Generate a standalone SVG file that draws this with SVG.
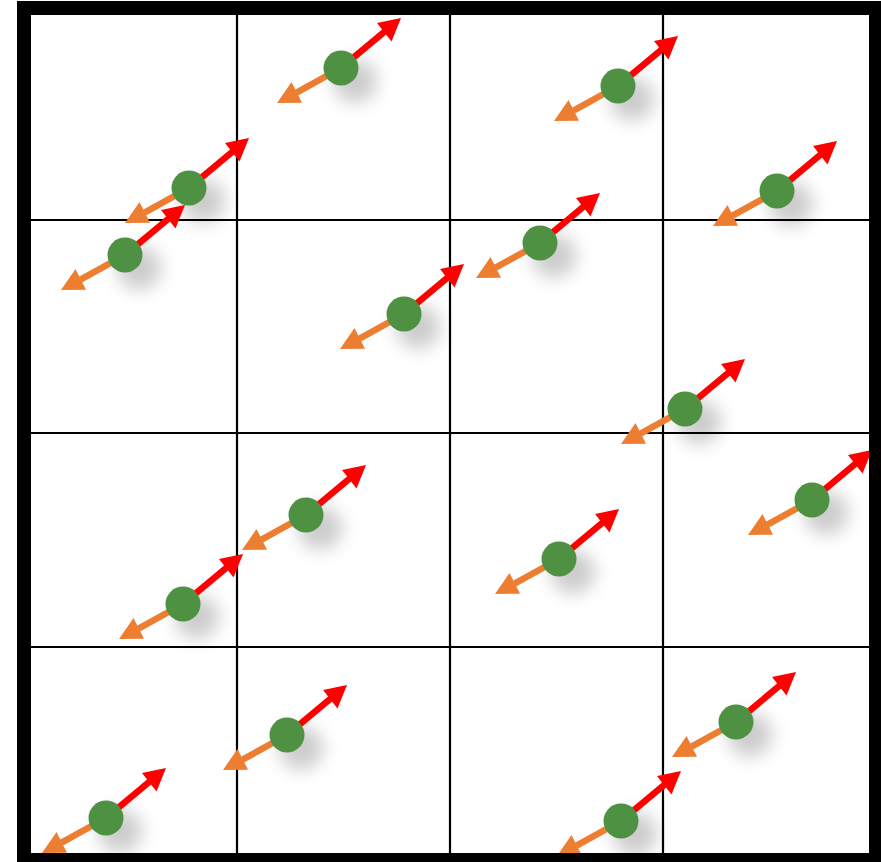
<svg xmlns="http://www.w3.org/2000/svg" xmlns:xlink="http://www.w3.org/1999/xlink" width="881" height="862" viewBox="0 0 881 862">
<style>
.grid{stroke:#000;stroke-width:2.2;fill:none}
.frame{stroke:#000;stroke-width:14;fill:none}
.red{stroke:#FF0000;stroke-width:6.5}
.redh{fill:#FF0000}
.org{stroke:#ED7D31;stroke-width:6.5}
.orgh{fill:#ED7D31}
.dot{fill:#4F9143}
.sh{fill:#000;opacity:0.2}
</style>
<defs>
<filter id="blur" x="-1" y="-1" width="3" height="3"><feGaussianBlur stdDeviation="9"/></filter>
<g id="item">
<circle class="sh" cx="14" cy="13" r="22" filter="url(#blur)"/>
<line class="red" x1="0" y1="0" x2="44" y2="-36.7"/>
<polygon class="redh" points="60,-50 50.5,-26.5 36,-45"/>
<line class="org" x1="0" y1="0" x2="-44.5" y2="24.7"/>
<polygon class="orgh" points="-64,35 -39,34.7 -49.5,14"/>
<circle class="dot" cx="0" cy="0" r="17.5"/>
</g>
</defs>
<rect x="0" y="0" width="881" height="862" fill="#fff"/>
<g id="grid">
<line class="grid" x1="237" y1="8" x2="237" y2="860"/>
<line class="grid" x1="450" y1="8" x2="450" y2="860"/>
<line class="grid" x1="663" y1="8" x2="663" y2="860"/>
<line class="grid" x1="24" y1="220" x2="876" y2="220"/>
<line class="grid" x1="24" y1="433" x2="876" y2="433"/>
<line class="grid" x1="24" y1="647" x2="876" y2="647"/>
</g>
<g id="connectors"></g>
<g id="n1" transform="translate(341,68)"><use xlink:href="#item"/></g>
<g id="n2" transform="translate(618,86)"><use xlink:href="#item"/></g>
<g id="n3" transform="translate(189,188)"><use xlink:href="#item"/></g>
<g id="n4" transform="translate(777,191)"><use xlink:href="#item"/></g>
<g id="n5" transform="translate(125,255)"><use xlink:href="#item"/></g>
<g id="n6" transform="translate(540,243)"><use xlink:href="#item"/></g>
<g id="n7" transform="translate(404,314)"><use xlink:href="#item"/></g>
<g id="n8" transform="translate(685,409)"><use xlink:href="#item"/></g>
<g id="n9" transform="translate(306,515)"><use xlink:href="#item"/></g>
<g id="n10" transform="translate(812,500)"><use xlink:href="#item"/></g>
<g id="n11" transform="translate(559,559)"><use xlink:href="#item"/></g>
<g id="n12" transform="translate(183,604)"><use xlink:href="#item"/></g>
<g id="n13" transform="translate(287,735)"><use xlink:href="#item"/></g>
<g id="n14" transform="translate(736,722)"><use xlink:href="#item"/></g>
<g id="n15" transform="translate(106,818)"><use xlink:href="#item"/></g>
<g id="n16" transform="translate(621,821)"><use xlink:href="#item"/></g>
<rect class="frame" x="24" y="8" width="852" height="852"/>
</svg>
